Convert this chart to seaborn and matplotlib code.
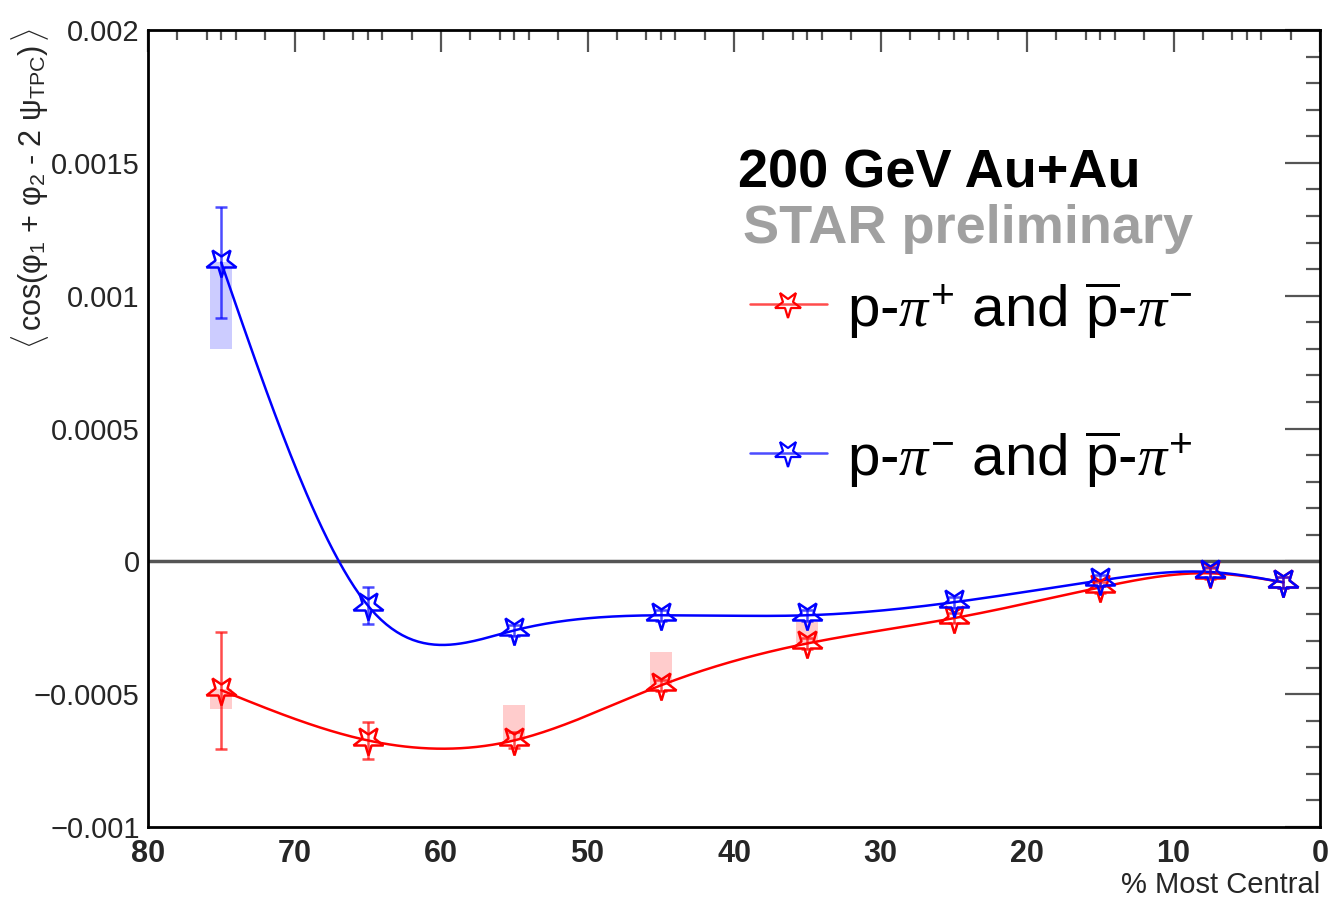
import numpy as np
import pandas as pd
import matplotlib
matplotlib.use("Agg")
import matplotlib.pyplot as plt
from matplotlib.markers import MarkerStyle
from matplotlib.transforms import Affine2D
import seaborn as sns

# ---------------- data ----------------
centrality = [75, 65, 55, 45, 35, 25, 15, 7.5, 2.5]

red_y = [-0.000485, -0.000674, -0.000674, -0.000467, -0.000309, -0.000214, -0.000098, -0.000045, -0.000079]
red_stat = [0.00022, 0.00007, 0.00003, 0.00002, 0.00002, 0.00002, 0.00002, 0.00002, 0.00002]
red_sys_lo = [-0.000555, -0.000674, -0.000674, -0.000467, -0.000309, -0.000214, -0.000098, -0.000045, -0.000079]
red_sys_hi = [-0.000480, -0.000674, -0.000542, -0.000342, -0.000230, -0.000214, -0.000098, -0.000045, -0.000079]

blue_y = [0.001125, -0.000166, -0.000260, -0.000203, -0.000203, -0.000154, -0.000072, -0.000040, -0.000079]
blue_stat = [0.00021, 0.00007, 0.00002, 0.00002, 0.00002, 0.00002, 0.00002, 0.00002, 0.00002]
blue_sys_lo = [0.00080, -0.000166, -0.000260, -0.000203, -0.000203, -0.000154, -0.000072, -0.000040, -0.000079]
blue_sys_hi = [0.001125, -0.000166, -0.000260, -0.000203, -0.000203, -0.000154, -0.000072, -0.000040, -0.000079]

ytick_vals = [-0.001, -0.0005, 0, 0.0005, 0.001, 0.0015, 0.002]
ytick_labels = ["\u22120.001", "\u22120.0005", "0", "0.0005", "0.001", "0.0015", "0.002"]
xtick_vals = [0, 10, 20, 30, 40, 50, 60, 70, 80]
xtick_labels = ["0", "10", "20", "30", "40", "50", "60", "70", "80"]

label_red = r"p-$\pi^{+}$ and $\overline{\mathrm{p}}$-$\pi^{-}$"
label_blue = r"p-$\pi^{-}$ and $\overline{\mathrm{p}}$-$\pi^{+}$"
ylabel_text = r"$\langle\,$cos(φ$_{1}$ + φ$_{2}$ - 2 ψ$_{\mathrm{TPC}}$)$\,\rangle$"

RED = "#ff0000"
BLUE = "#0000ff"


def natural_spline(x, y, n=400):
    x = np.asarray(x, float)
    y = np.asarray(y, float)
    order = np.argsort(x)
    x, y = x[order], y[order]
    m = len(x)
    h = np.diff(x)
    A = np.zeros((m, m))
    b = np.zeros(m)
    A[0, 0] = 1
    A[-1, -1] = 1
    for i in range(1, m - 1):
        A[i, i - 1] = h[i - 1]
        A[i, i] = 2 * (h[i - 1] + h[i])
        A[i, i + 1] = h[i]
        b[i] = 3 * ((y[i + 1] - y[i]) / h[i] - (y[i] - y[i - 1]) / h[i - 1])
    c = np.linalg.solve(A, b)
    xs = np.linspace(x[0], x[-1], n)
    ys = np.empty_like(xs)
    for k, xv in enumerate(xs):
        i = min(np.searchsorted(x, xv, side="right") - 1, m - 2)
        i = max(i, 0)
        bi = (y[i + 1] - y[i]) / h[i] - h[i] * (2 * c[i] + c[i + 1]) / 3
        di = (c[i + 1] - c[i]) / (3 * h[i])
        dx = xv - x[i]
        ys[k] = y[i] + bi * dx + c[i] * dx ** 2 + di * dx ** 3
    return xs, ys


sns.set_theme(style="white")
plt.rcParams["font.family"] = ["Liberation Sans", "DejaVu Sans"]
plt.rcParams["mathtext.fontset"] = "custom"
plt.rcParams["mathtext.rm"] = "Liberation Sans"
plt.rcParams["mathtext.it"] = "Liberation Serif:italic"
plt.rcParams["mathtext.bf"] = "Liberation Sans:bold"

fig = plt.figure(figsize=(13.31, 8.98), dpi=100)
ax = fig.add_axes([148 / 1331, 1 - 827 / 898, (1320 - 148) / 1331, (827 - 30) / 898])

ax.axhline(0, color="#555555", lw=2.5, zorder=1)

star = MarkerStyle("*", fillstyle="none", transform=Affine2D().rotate_deg(180))

for yv, st, lo, hi, col in [
    (red_y, red_stat, red_sys_lo, red_sys_hi, RED),
    (blue_y, blue_stat, blue_sys_lo, blue_sys_hi, BLUE),
]:
    for xc, l, h in zip(centrality, lo, hi):
        if h - l > 1e-6:
            ax.add_patch(plt.Rectangle((xc - 0.75, l), 1.5, h - l, color=col, alpha=0.2, lw=0, zorder=2))
    xs, ys = natural_spline(centrality, yv)
    df = pd.DataFrame({"x": xs, "y": ys})
    sns.lineplot(data=df, x="x", y="y", color=col, lw=1.8, sort=False, estimator=None, ax=ax, zorder=3)
    ax.errorbar(centrality, yv, yerr=st, fmt="none", ecolor=col, elinewidth=1.8, capsize=4, capthick=1.8, alpha=0.7, zorder=4)
    ax.plot(centrality, yv, linestyle="none", marker=star, markersize=22, markeredgewidth=1.8,
            markeredgecolor=col, markerfacecolor="none", zorder=5)

ax.set_xlim(80, 0)
ax.set_ylim(-0.001, 0.002)

ax.set_xticks(xtick_vals)
ax.set_xticklabels(xtick_labels, fontsize=22, fontweight="bold")
minor_x = [d * 10 + o for d in range(8) for o in (2, 4, 5, 6, 8)]
ax.set_xticks(minor_x, minor=True)
ax.set_yticks(ytick_vals)
ax.set_yticklabels(ytick_labels, fontsize=21)
ax.set_yticks(np.arange(-0.001, 0.00201, 0.0001), minor=True)

ax.tick_params(axis="both", which="both", direction="in", top=True, right=True, color="#555555", width=1.6)
ax.tick_params(axis="y", which="major", length=25, pad=6)
ax.tick_params(axis="y", which="minor", length=10)
ax.tick_params(axis="x", which="major", length=16, pad=9)
ax.tick_params(axis="x", which="minor", length=7)

for s in ax.spines.values():
    s.set_color("black")
    s.set_linewidth(2)

ax.set_xlabel("")
ax.set_ylabel("")
fig.text(1320 / 1331, 1 - 885 / 898, "% Most Central", ha="right", va="center", fontsize=21)
fig.text(30 / 1331, 1 - 28 / 898, ylabel_text, rotation=90, ha="center", va="top", fontsize=22)

ax.text(0.503, 1 - (188 - 30) / 797, "200 GeV Au+Au", transform=ax.transAxes,
        fontsize=39, fontweight="bold", color="black", ha="left", va="baseline")
ax.text(0.508, 1 - (243 - 30) / 797, "STAR preliminary", transform=ax.transAxes,
        fontsize=39, fontweight="bold", color="#a0a0a0", ha="left", va="baseline")

for yl, lab, col in [(304, label_red, RED), (453, label_blue, BLUE)]:
    yy = 1 - (yl - 30) / 797
    x0 = (750 - 148) / 1172
    x1 = (827 - 148) / 1172
    ax.plot([x0, x1], [yy, yy], transform=ax.transAxes, color=col, lw=1.8, alpha=0.7)
    ax.plot([(x0 + x1) / 2], [yy], transform=ax.transAxes, linestyle="none", marker=star, markersize=20,
            markeredgewidth=1.6, markeredgecolor=col, markerfacecolor="none")
    ax.text((847 - 148) / 1172, yy - 0.028, lab, transform=ax.transAxes, fontsize=42,
            ha="left", va="baseline", color="black")

fig.savefig("out.png", dpi=100)
